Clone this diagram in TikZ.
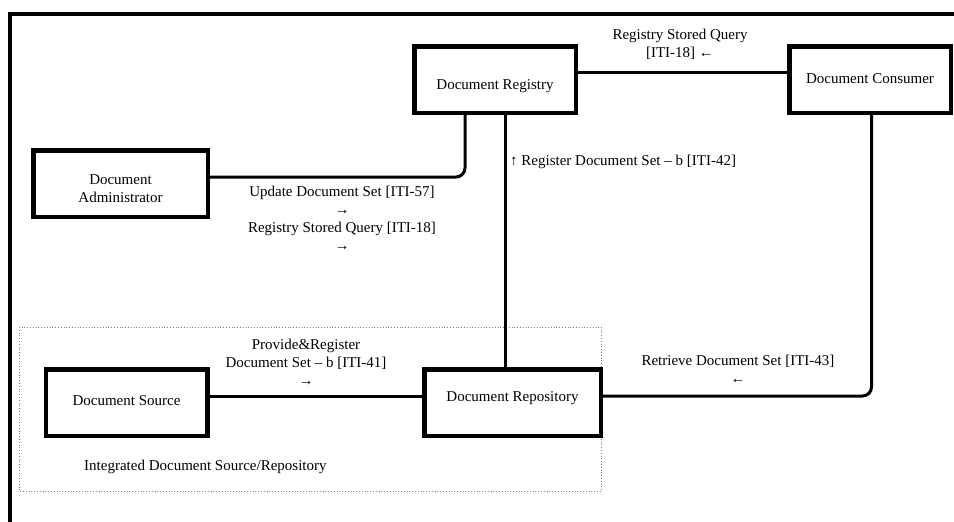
\documentclass[tikz,border=0pt]{standalone}
\usepackage{fontspec}
\setmainfont{Liberation Serif}
\usetikzlibrary{calc}
\newcommand\lowerby[2]{\raisebox{-#1}[\height][\depth]{#2}}
\begin{document}
\begin{tikzpicture}[x=1pt,y=-1pt,
  box/.style={draw, line width=4.5pt, minimum width=#1, minimum height=66.5pt,
    inner sep=0pt, outer sep=0pt, font=\fontsize{15}{18}\selectfont, align=center},
  conn/.style={line width=3pt, rounded corners=9pt},
  lbl/.style={font=\fontsize{15}{18}\selectfont, align=center, inner sep=0pt},
  group/.style={draw=gray, dotted, line width=0.8pt}]
\useasboundingbox (0,0) rectangle (954,522);
% outer frame
\draw[line width=4pt] (10,530) -- (10,13.5) -- (960,13.5);
% dotted group
\draw[group] (19,327) rectangle (601.5,491);
% boxes
\node[box=161.5pt] (reg) at (495,79.5) {\lowerby{7pt}{Document Registry}};
\node[box=161.5pt] (cons) at (870,79.5) {\lowerby{-1pt}{Document Consumer}};
\node[box=174.5pt] (admin) at (120.5,183.5) {\lowerby{6.5pt}{\begin{tabular}{@{}c@{}}Document\\Administrator\end{tabular}}};
\node[box=161.5pt] (src) at (126.5,402.5) {\lowerby{-2pt}{Document Source}};
\node[box=176.5pt] (repo) at (512.5,402.5) {\lowerby{-4pt}{Document Repository}};
% connectors
\draw[conn] ($(reg.east)+(0,-7)$) -- ($(cons.west)+(0,-7)$);
\draw[conn] ($(admin.east)+(0,-6.5)$) -| ($(reg.south)+(-30,0)$);
\draw[conn] ($(reg.south)+(10,0)$) -- ($(repo.north)+(-7.5,0)$);
\draw[conn] ($(cons.south)+(1.5,0)$) |- ($(repo.east)+(0,-6.5)$);
\draw[conn] ($(src.east)+(0,-6.5)$) -- ($(repo.west)+(0,-6.5)$);
% labels
\node[lbl] (l1) at (680,44) {Registry Stored Query\\{}[ITI-18] ←};
\node[lbl] (l2) at (342,218.5) {Update Document Set [ITI-57]\\→\\Registry Stored Query [ITI-18]\\→};
\node[lbl, anchor=west] (l3) at (510,162) {↑ Register Document Set – b [ITI-42]};
\node[lbl] (l4) at (306,362) {Provide\&Register\\Document Set – b [ITI-41]\\→};
\node[lbl] (l5) at (738,369) {Retrieve Document Set [ITI-43]\\←};
\node[lbl, anchor=west] (l6) at (84,467) {Integrated Document Source/Repository};
\end{tikzpicture}
\end{document}
